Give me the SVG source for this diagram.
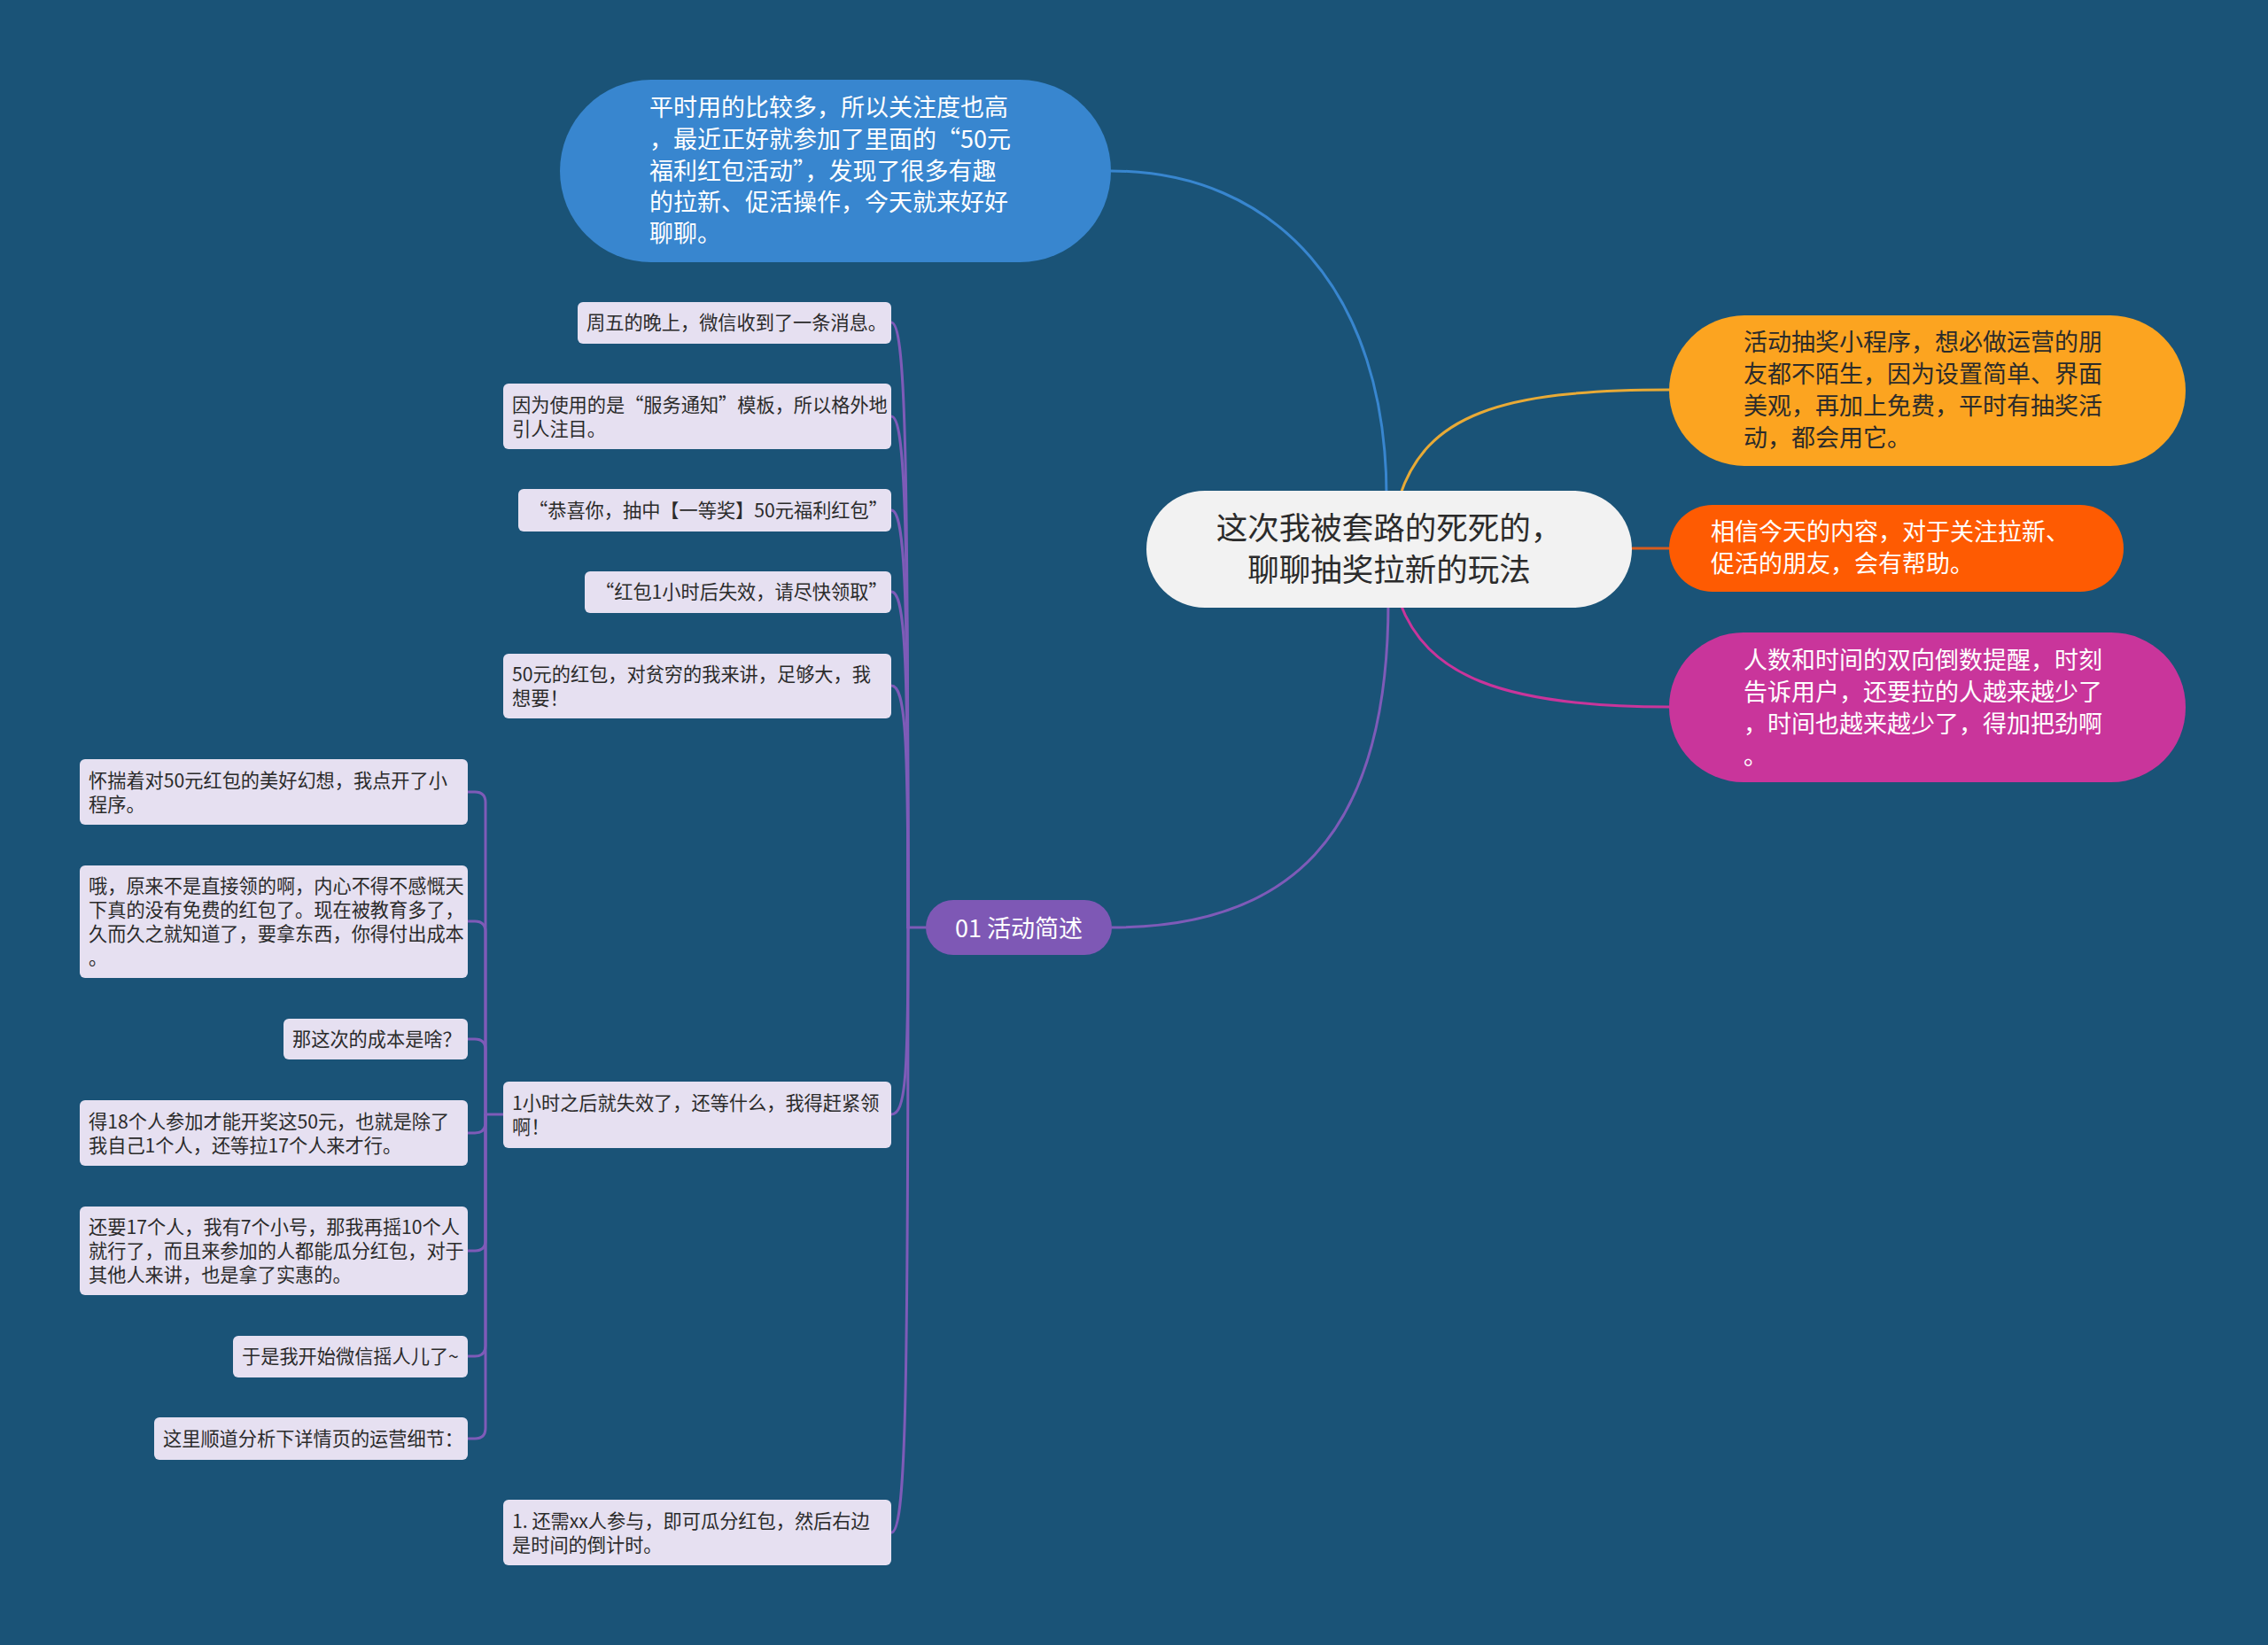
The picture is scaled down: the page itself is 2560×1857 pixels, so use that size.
<svg xmlns="http://www.w3.org/2000/svg" width="2560" height="1857" viewBox="0 0 2560 1857">
<style>
text{font-family:"Noto Sans CJK SC","Noto Sans",sans-serif;dominant-baseline:central}
.leaf rect{fill:#E6E0F1}
.leaf text{font-size:21.2px;fill:#2b2b2b}
.big text{font-size:27px}
.c{fill:none;stroke-width:3;stroke-linecap:round}
.p{stroke:#7E5BB8}
</style>
<rect x="0" y="0" width="2560" height="1857" fill="#1A5377"/>
<g id="connectors">
<path class="c" stroke="#3886CF" d="M1254 193 C1440 193 1565 330 1565 560"/>
<path class="c" stroke="#E8AA36" d="M1580 560 C1610 470 1690 440 1884 440"/>
<path class="c" stroke="#D85C1E" d="M1842 619 L1884 619"/>
<path class="c" stroke="#C9359B" d="M1580 680 C1610 760 1690 798 1884 798"/>
<path class="c p" d="M1567 680 C1567 950 1450 1047 1255 1047"/>
<g class="lv2">
<path class="c p" stroke-width="2.5" d="M1045 1047 H1025"/>
<path class="c p" stroke-width="2.5" d="M1006 364 C1022 364 1025 500 1025 1047"/>
<path class="c p" stroke-width="2.5" d="M1006 470 C1022 470 1025 585 1025 1047"/>
<path class="c p" stroke-width="2.5" d="M1006 576 C1022 576 1025 670 1025 1047"/>
<path class="c p" stroke-width="2.5" d="M1006 668 C1022 668 1025 744 1025 1047"/>
<path class="c p" stroke-width="2.5" d="M1006 774 C1022 774 1025 830 1025 1047"/>
<path class="c p" stroke-width="2.5" d="M1006 1258 C1022 1258 1025 1216 1025 1047"/>
<path class="c p" stroke-width="2.5" d="M1006 1730 C1022 1730 1025 1594 1025 1047"/>
</g>
<g class="lv3">
<path class="c p" stroke-width="2.5" d="M568 1258 H548"/>
<path class="c p" stroke-width="2.5" d="M548 1258 V906 Q548 894 536 894 H528"/>
<path class="c p" stroke-width="2.5" d="M548 1258 V1052 Q548 1040 536 1040 H528"/>
<path class="c p" stroke-width="2.5" d="M548 1258 V1185 Q548 1173 536 1173 H528"/>
<path class="c p" stroke-width="2.5" d="M548 1258 V1267 Q548 1279 536 1279 H528"/>
<path class="c p" stroke-width="2.5" d="M548 1258 V1400 Q548 1412 536 1412 H528"/>
<path class="c p" stroke-width="2.5" d="M548 1258 V1519 Q548 1531 536 1531 H528"/>
<path class="c p" stroke-width="2.5" d="M548 1258 V1612 Q548 1624 536 1624 H528"/>
</g>
</g>
<g id="root">
<rect x="1294" y="554" width="548" height="132" rx="66" fill="#F2F2F2"/>
<text x="1568" y="593" font-size="35.5" fill="#2b2b2b" text-anchor="middle">这次我被套路的死死的，</text>
<text x="1568" y="640" font-size="35.5" fill="#2b2b2b" text-anchor="middle">聊聊抽奖拉新的玩法</text>
</g>
<g id="n-blue" class="big">
<rect x="632" y="90" width="622" height="206" rx="103" fill="#3886CF"/>
<text x="733" y="119" fill="#fff">平时用的比较多，所以关注度也高</text>
<text x="733" y="155" fill="#fff">，最近正好就参加了里面的“50元</text>
<text x="733" y="191" fill="#fff">福利红包活动”，发现了很多有趣</text>
<text x="733" y="226" fill="#fff">的拉新、促活操作，今天就来好好</text>
<text x="733" y="261" fill="#fff">聊聊。</text>
</g>
<g id="n-orange" class="big">
<rect x="1884" y="356" width="583" height="170" rx="85" fill="#FCA420"/>
<text x="1968" y="384" fill="#2b2b2b">活动抽奖小程序，想必做运营的朋</text>
<text x="1968" y="420" fill="#2b2b2b">友都不陌生，因为设置简单、界面</text>
<text x="1968" y="456" fill="#2b2b2b">美观，再加上免费，平时有抽奖活</text>
<text x="1968" y="492" fill="#2b2b2b">动，都会用它。</text>
</g>
<g id="n-red" class="big">
<rect x="1884" y="570" width="513" height="98" rx="49" fill="#FE5B02"/>
<text x="1931" y="598" fill="#fff">相信今天的内容，对于关注拉新、</text>
<text x="1931" y="634" fill="#fff">促活的朋友，会有帮助。</text>
</g>
<g id="n-magenta" class="big">
<rect x="1884" y="714" width="583" height="169" rx="84" fill="#C9359B"/>
<text x="1968" y="743" fill="#fff">人数和时间的双向倒数提醒，时刻</text>
<text x="1968" y="779" fill="#fff">告诉用户，还要拉的人越来越少了</text>
<text x="1968" y="815" fill="#fff">，时间也越来越少了，得加把劲啊</text>
<text x="1968" y="851" fill="#fff">。</text>
</g>
<g id="n-01">
<rect x="1045" y="1016" width="210" height="62" rx="31" fill="#7E58B5"/>
<text x="1150" y="1046" font-size="27" fill="#fff" text-anchor="middle">01 活动简述</text>
</g>
<g id="l1" class="leaf"><rect x="652" y="341" width="354" height="47" rx="6"/>
<text x="662" y="362">周五的晚上，微信收到了一条消息。</text></g>
<g id="l2" class="leaf"><rect x="568" y="433" width="438" height="74" rx="6"/>
<text x="578" y="455">因为使用的是“服务通知”模板，所以格外地</text>
<text x="578" y="482">引人注目。</text></g>
<g id="l3" class="leaf"><rect x="585" y="552" width="421" height="48" rx="6"/>
<text x="597" y="574">“恭喜你，抽中【一等奖】50元福利红包”</text></g>
<g id="l4" class="leaf"><rect x="660" y="645" width="346" height="47" rx="6"/>
<text x="672" y="666">“红包1小时后失效，请尽快领取”</text></g>
<g id="l5" class="leaf"><rect x="568" y="738" width="438" height="73" rx="6"/>
<text x="578" y="759">50元的红包，对贫穷的我来讲，足够大，我</text>
<text x="578" y="786">想要！</text></g>
<g id="l6" class="leaf"><rect x="568" y="1221" width="438" height="75" rx="6"/>
<text x="578" y="1243">1小时之后就失效了，还等什么，我得赶紧领</text>
<text x="578" y="1270">啊！</text></g>
<g id="l7" class="leaf"><rect x="568" y="1693" width="438" height="74" rx="6"/>
<text x="578" y="1715">1. 还需xx人参与，即可瓜分红包，然后右边</text>
<text x="578" y="1742">是时间的倒计时。</text></g>
<g id="la" class="leaf"><rect x="90" y="857" width="438" height="74" rx="6"/>
<text x="100" y="879">怀揣着对50元红包的美好幻想，我点开了小</text>
<text x="100" y="906">程序。</text></g>
<g id="lb" class="leaf"><rect x="90" y="977" width="438" height="127" rx="6"/>
<text x="100" y="998">哦，原来不是直接领的啊，内心不得不感慨天</text>
<text x="100" y="1025">下真的没有免费的红包了。现在被教育多了，</text>
<text x="100" y="1052">久而久之就知道了，要拿东西，你得付出成本</text>
<text x="100" y="1079">。</text></g>
<g id="lc" class="leaf"><rect x="320" y="1150" width="208" height="46" rx="6"/>
<text x="330" y="1171">那这次的成本是啥？</text></g>
<g id="ld" class="leaf"><rect x="90" y="1242" width="438" height="74" rx="6"/>
<text x="100" y="1264">得18个人参加才能开奖这50元，也就是除了</text>
<text x="100" y="1291">我自己1个人，还等拉17个人来才行。</text></g>
<g id="le" class="leaf"><rect x="90" y="1362" width="438" height="100" rx="6"/>
<text x="100" y="1383">还要17个人，我有7个小号，那我再摇10个人</text>
<text x="100" y="1410">就行了，而且来参加的人都能瓜分红包，对于</text>
<text x="100" y="1437">其他人来讲，也是拿了实惠的。</text></g>
<g id="lf" class="leaf"><rect x="263" y="1508" width="265" height="47" rx="6"/>
<text x="273" y="1529">于是我开始微信摇人儿了~</text></g>
<g id="lg" class="leaf"><rect x="174" y="1600" width="354" height="48" rx="6"/>
<text x="184" y="1622">这里顺道分析下详情页的运营细节：</text></g>
</svg>
